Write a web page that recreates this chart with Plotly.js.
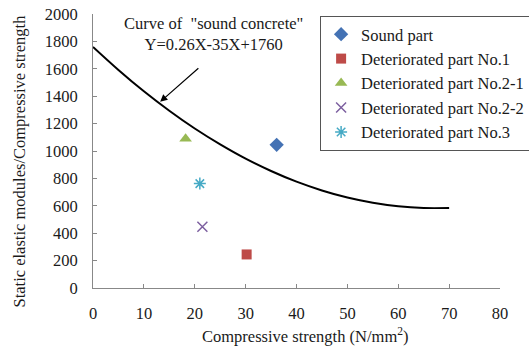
<!DOCTYPE html>
<html><head><meta charset="utf-8">
<script src="https://cdn.plot.ly/plotly-3.0.1.min.js"></script>
<style>html,body{margin:0;padding:0;background:#fff}#chart{width:529px;height:350px}</style>
</head><body><div id="chart"></div>
<script>
// Curve of "sound concrete"
var curveX = [0, 5, 10, 15, 20, 25, 30, 35, 40, 45, 50, 55, 60, 65, 70];
var curveY = [1760, 1592, 1436, 1294, 1164, 1048, 944, 854, 776, 712, 660, 622, 596, 584, 584];

var seriesNames = ["Sound part", "Deteriorated part No.1", "Deteriorated part No.2-1", "Deteriorated part No.2-2", "Deteriorated part No.3"];
var seriesX = [36.1, 30.2, 18.2, 21.5, 21.0];
var seriesY = [1045, 245, 1090, 447, 762];

var xTicks = [0, 10, 20, 30, 40, 50, 60, 70, 80];
var yTicks = [0, 200, 400, 600, 800, 1000, 1200, 1400, 1600, 1800, 2000];

var colors = ["#4472B4", "#BE4B48", "#98B954", "#7D60A0", "#46AAC5"];
var symbols = ["diamond", "square", "triangle-up", "x-thin-open", "asterisk-open"];
var sizes = [11, 10, 11, 10, 10];

var traces = [{
  x: curveX, y: curveY, yaxis: "y2", mode: "lines", type: "scatter", line: {color: "#000", width: 2, shape: "spline"},
  showlegend: false, hoverinfo: "skip"
}];
for (var i = 0; i < seriesNames.length; i++) {
  traces.push({
    x: [seriesX[i]], y: [seriesY[i]], name: seriesNames[i], type: "scatter", mode: "markers",
    legendgroup: "g" + i,
    marker: {symbol: symbols[i], color: colors[i], size: sizes[i], line: {color: colors[i], width: (i >= 3 ? 1.5 : 0)}}
  });
}

function F() { return {family: "Liberation Serif", size: 16.5, color: "#1a1a1a"}; }
var layout = {
  width: 529, height: 350,
  margin: {l: 93, r: 29, t: 14, b: 62, autoexpand: false},
  paper_bgcolor: "#fff", plot_bgcolor: "#fff",
  font: F(),
  showlegend: true,
  legend: {x: 0.558, y: 0.993, xanchor: "left", yanchor: "top", bordercolor: "#555", borderwidth: 1,
    bgcolor: "#fff", font: F(), tracegroupgap: 0, itemwidth: 30},
  xaxis: {range: [0, 80], tickvals: xTicks, ticktext: xTicks.map(String), showgrid: false, zeroline: false,
    showline: true, linecolor: "#888", linewidth: 1, ticks: "inside", ticklen: 4, tickcolor: "#888",
    ticklabelstandoff: 10, tickfont: F(), automargin: false},
  yaxis: {range: [0, 2000], tickvals: yTicks, ticktext: yTicks.map(String), showgrid: false, zeroline: false,
    showline: true, linecolor: "#888", linewidth: 1, ticks: "outside", ticklen: 11, tickcolor: "rgba(0,0,0,0)",
    tickfont: F(), automargin: false},
  yaxis2: {range: [0, 2000], overlaying: "y", side: "left", tickvals: yTicks, showticklabels: false,
    showgrid: false, zeroline: false, showline: false, ticks: "inside", ticklen: 4, tickcolor: "#888", automargin: false},
  annotations: [
    {x: 23.6, y: 1852, xref: "x", yref: "y", text: "Curve of  \"sound concrete\"<br>Y=0.26X-35X+1760",
      showarrow: false, font: F(), align: "center"},
    {x: 13.2, y: 1359, ax: 21.4, ay: 1626, xref: "x", yref: "y", axref: "x", ayref: "y", text: " ",
      showarrow: true, arrowhead: 2, arrowsize: 1.2, arrowwidth: 1.2, arrowcolor: "#000"},
    {x: 0, y: 0.4617, xref: "paper", yref: "paper", xanchor: "center", yanchor: "middle", xshift: -74,
      textangle: -90, text: "Static elastic modules/Compressive strength", showarrow: false, font: F()},
    {x: 0.521, y: 0, xref: "paper", yref: "paper", xanchor: "center", yanchor: "middle", yshift: -47,
      text: "Compressive strength (N/mm<sup>2</sup>)", showarrow: false, font: F()}
  ]
};
Plotly.newPlot("chart", traces, layout, {displayModeBar: false, staticPlot: true});
</script></body></html>
